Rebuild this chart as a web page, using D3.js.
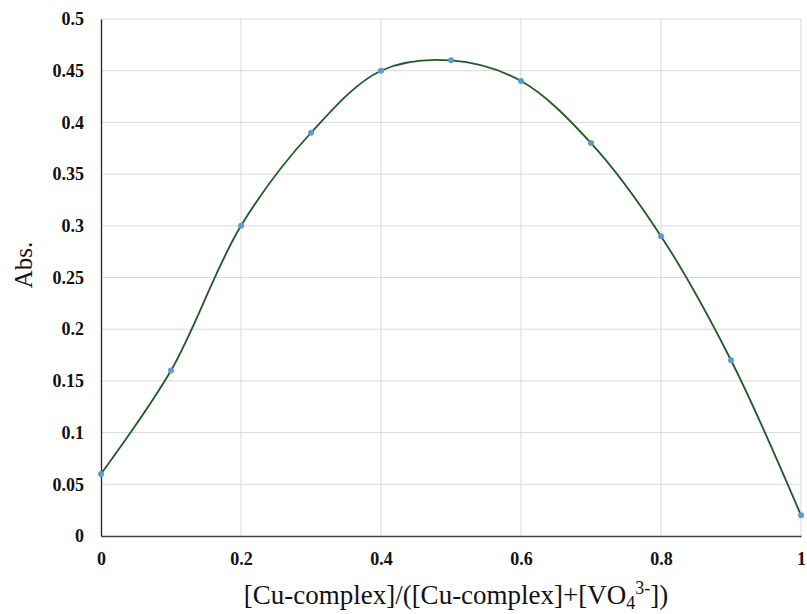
<!DOCTYPE html>
<html>
<head>
<meta charset="utf-8">
<script src="https://cdn.jsdelivr.net/npm/d3@7"></script>
<style>
  body { margin: 0; background: #fff; }
  svg { display: block; }
</style>
</head>
<body>
<div id="chart"></div>
<script>
// data
const fractions = [0, 0.1, 0.2, 0.3, 0.4, 0.5, 0.6, 0.7, 0.8, 0.9, 1];
const absValues = [0.06, 0.16, 0.30, 0.39, 0.45, 0.46, 0.44, 0.38, 0.29, 0.17, 0.02];
const xTicks = [0, 0.2, 0.4, 0.6, 0.8, 1];
const yTicks = [0, 0.05, 0.1, 0.15, 0.2, 0.25, 0.3, 0.35, 0.4, 0.45, 0.5];

const W = 807, H = 614;
const MARGIN = { left: 101, right: 6, top: 19, bottom: 78 };
const SERIF = "'Liberation Serif', 'Times New Roman', serif";

const svg = d3.select("#chart").append("svg")
    .attr("width", W)
    .attr("height", H);

const x = d3.scaleLinear().domain([0, 1]).range([MARGIN.left, W - MARGIN.right]);
const y = d3.scaleLinear().domain([0, 0.5]).range([H - MARGIN.bottom, MARGIN.top]);

// ---- grid ----
svg.append("g")
    .selectAll("line")
    .data(yTicks.slice(1))
    .join("line")
    .attr("x1", x(0)).attr("x2", x(1))
    .attr("y1", d => y(d)).attr("y2", d => y(d))
    .attr("stroke", "#d9d9d9").attr("stroke-width", 1);

svg.append("g")
    .selectAll("line")
    .data(xTicks.slice(1))
    .join("line")
    .attr("x1", d => x(d)).attr("x2", d => x(d))
    .attr("y1", y(0)).attr("y2", y(0.5))
    .attr("stroke", "#d9d9d9").attr("stroke-width", 1);

// ---- axes ----
const xAxis = svg.append("g")
    .attr("transform", `translate(0,${y(0)})`)
    .call(d3.axisBottom(x).tickValues(xTicks).tickSize(0).tickPadding(16)
        .tickFormat(d => d3.format("~g")(d)));
xAxis.select(".domain").attr("stroke", "#404040").attr("stroke-width", 1.3);

const yAxis = svg.append("g")
    .attr("transform", `translate(${x(0)},0)`)
    .call(d3.axisLeft(y).tickValues(yTicks).tickSize(0).tickPadding(17)
        .tickFormat(d => d3.format("~g")(d)));
yAxis.select(".domain").attr("stroke", "#222").attr("stroke-width", 1.3);

svg.selectAll(".tick text")
    .attr("font-family", SERIF)
    .attr("font-weight", "bold")
    .attr("font-size", "18px")
    .attr("fill", "#111");

// ---- curve ----
const pts = fractions.map((f, i) => ({ f: f, a: absValues[i] }));

const line = d3.line()
    .x(d => x(d.f))
    .y(d => y(d.a))
    .curve(d3.curveCatmullRom.alpha(0.5));

svg.append("path")
    .datum(pts)
    .attr("d", line)
    .attr("fill", "none")
    .attr("stroke", "#1f5a24")
    .attr("stroke-width", 1.8);

svg.append("g")
    .selectAll("circle")
    .data(pts)
    .join("circle")
    .attr("cx", d => x(d.f))
    .attr("cy", d => y(d.a))
    .attr("r", 3)
    .attr("fill", "#5b9bd5");

// ---- axis titles ----
const xt = svg.append("text")
    .attr("x", 456)
    .attr("y", 604)
    .attr("text-anchor", "middle")
    .attr("font-family", SERIF)
    .attr("font-size", "27px")
    .attr("fill", "#111");
xt.append("tspan").text("[Cu-complex]/([Cu-complex]+[VO");
xt.append("tspan").attr("font-size", "18px").attr("dy", 5).text("4");
xt.append("tspan").attr("font-size", "18px").attr("dy", -15).text("3-");
xt.append("tspan").attr("dy", 10).text("])");

svg.append("text")
    .attr("transform", "translate(32,265) rotate(-90)")
    .attr("text-anchor", "middle")
    .attr("font-family", SERIF)
    .attr("font-size", "25px")
    .attr("fill", "#111")
    .text("Abs.");
</script>
</body>
</html>
